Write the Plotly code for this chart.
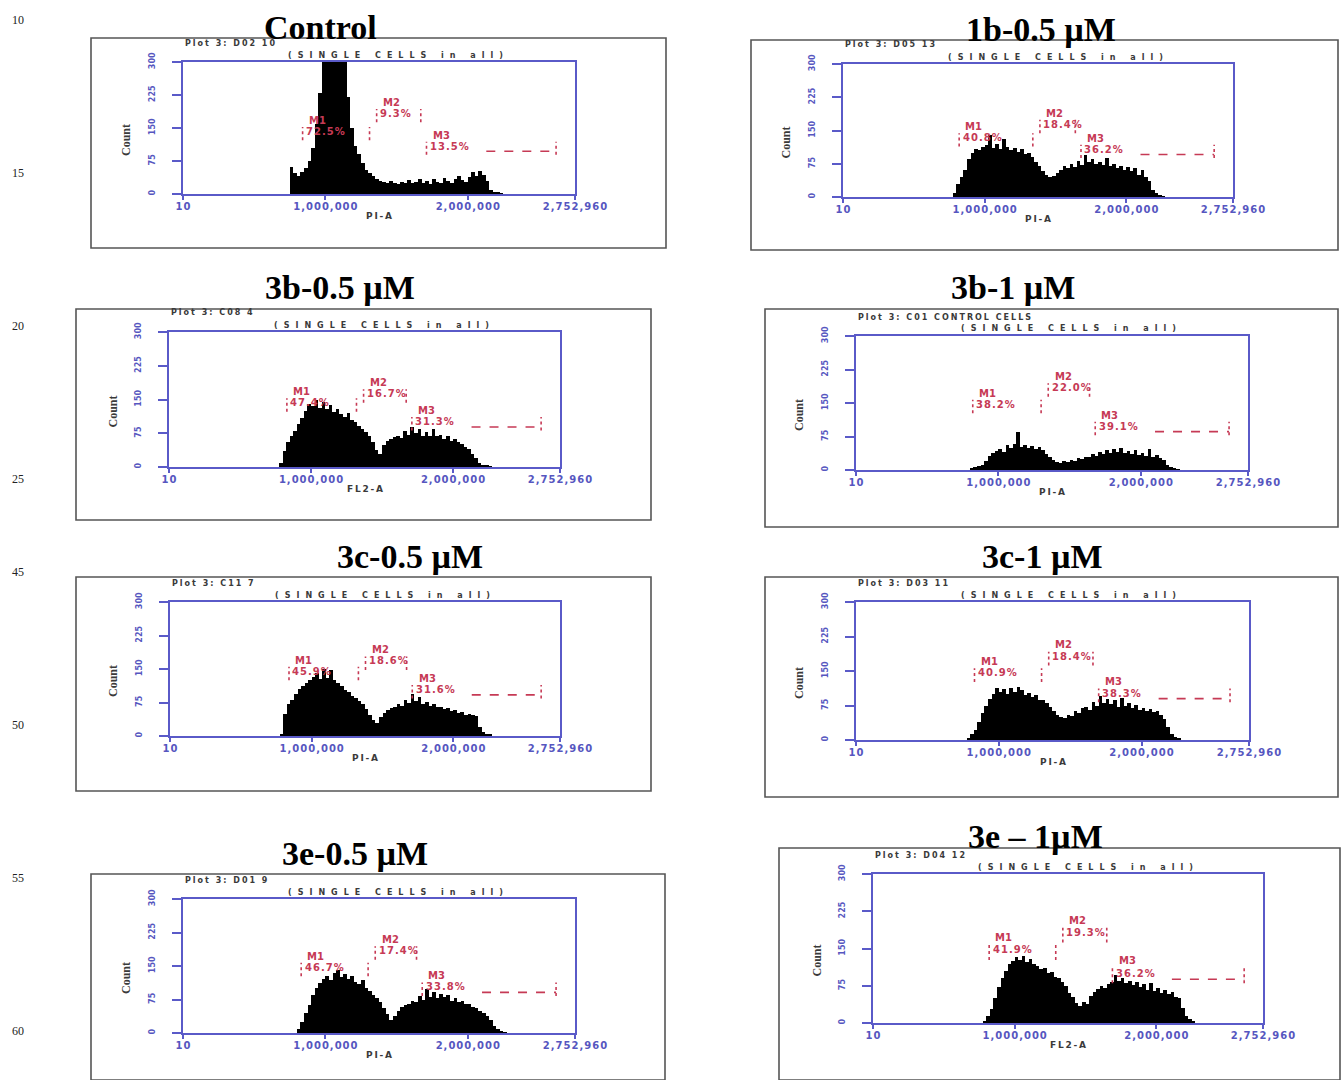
import plotly.graph_objects as go

W, H = 1341, 1080

# ---------------- data ----------------
titles = ["Control", "1b-0.5 µM", "3b-0.5 µM", "3b-1 µM",
          "3c-0.5 µM", "3c-1 µM", "3e-0.5 µM", "3e – 1µM"]
sample_ids = ["Plot 3: D02 10", "Plot 3: D05 13", "Plot 3: C08 4",
              "Plot 3: C01 CONTROL CELLS", "Plot 3: C11 7", "Plot 3: D03 11",
              "Plot 3: D01 9", "Plot 3: D04 12"]
gate_label = "(SINGLE CELLS in all)"
x_axis_titles = ["PI-A", "PI-A", "FL2-A", "PI-A", "PI-A", "PI-A", "PI-A", "FL2-A"]
y_axis_title = "Count"

m1_pct = ["72.5%", "40.8%", "47.4%", "38.2%", "45.9%", "40.9%", "46.7%", "41.9%"]
m2_pct = ["9.3%", "18.4%", "16.7%", "22.0%", "18.6%", "18.4%", "17.4%", "19.3%"]
m3_pct = ["13.5%", "36.2%", "31.3%", "39.1%", "31.6%", "38.3%", "33.8%", "36.2%"]

x_tick_values = [10, 1000000, 2000000, 2752960]
x_tick_labels = ["10", "1,000,000", "2,000,000", "2,752,960"]
y_tick_values = [0, 75, 150, 225, 300]
y_tick_labels = ["0", "75", "150", "225", "300"]

line_numbers = ["10", "15", "20", "25", "45", "50", "55", "60"]

# histogram bins (PI-A channel), 25,000 wide starting at 700,000
bin_width = 25000
bin_centers = [712500 + bin_width * i for i in range(64)]

counts_control = [0, 0, 62, 48, 42, 50, 58, 75, 105, 160, 230, 310, 420, 450, 430, 400,
                  360, 320, 220, 150, 110, 90, 70, 55, 48, 40, 35, 30,
                  28, 24, 30, 26, 22, 28, 25, 32, 24, 27, 34, 26, 30, 22, 33, 28,
                  26, 36, 30, 25, 34, 40, 32, 28, 38, 50, 42, 52,
                  44, 30, 8, 5, 3, 2, 0, 0]
counts_1b_05 = [0, 0, 0, 10, 30, 45, 60, 85, 100, 108, 105, 112, 118, 140, 110, 120,
                108, 130, 112, 105, 110, 102, 108, 98, 100, 90, 80, 70, 58, 50, 45, 48,
                55, 62, 70, 66, 75, 68, 82, 72, 95, 78, 85, 74, 80, 72, 88, 70,
                75, 65, 70, 62, 68, 58, 65, 50, 60, 45, 35, 15, 8, 4, 2, 0]
counts_3b_05 = [0, 0, 0, 8, 35, 55, 70, 80, 95, 110, 125, 140, 135, 150, 132, 145,
                128, 138, 122, 130, 118, 112, 120, 105, 100, 92, 85, 78, 70, 55, 38, 30,
                48, 58, 62, 66, 70, 64, 80, 72, 90, 76, 84, 70, 78, 68, 85, 70,
                72, 62, 68, 58, 62, 55, 52, 45, 40, 30, 20, 10, 5, 3, 2, 0]
counts_3b_1 = [0, 0, 0, 0, 4, 6, 8, 12, 20, 32, 38, 42, 48, 40, 55, 50,
               58, 84, 52, 56, 50, 54, 46, 52, 44, 36, 28, 22, 18, 16, 20, 18,
               22, 20, 26, 24, 30, 28, 36, 32, 40, 35, 44, 38, 46, 40, 50, 38,
               42, 36, 44, 34, 38, 32, 46, 30, 34, 26, 22, 12, 6, 3, 1, 0]
counts_3c_05 = [0, 0, 0, 5, 50, 72, 80, 95, 105, 112, 118, 125, 132, 140, 128, 150,
                130, 148, 125, 118, 112, 104, 98, 90, 85, 78, 72, 60, 48, 35, 30, 42,
                52, 58, 62, 66, 72, 68, 80, 74, 95, 78, 88, 72, 76, 68, 72, 64,
                66, 60, 62, 56, 58, 52, 54, 48, 50, 46, 44, 20, 8, 5, 4, 0]
counts_3c_1 = [0, 0, 0, 4, 12, 22, 40, 58, 75, 90, 100, 112, 105, 110, 100, 112,
               104, 115, 108, 98, 102, 94, 98, 88, 86, 80, 72, 62, 55, 50, 48, 55,
               52, 62, 58, 70, 72, 66, 82, 75, 96, 80, 90, 78, 86, 72, 92, 74,
               80, 70, 76, 66, 70, 62, 68, 60, 62, 55, 45, 28, 12, 6, 4, 0]
counts_3e_05 = [0, 0, 0, 0, 8, 25, 45, 62, 85, 100, 112, 120, 128, 118, 135, 140,
                125, 132, 120, 128, 115, 110, 118, 100, 95, 85, 78, 70, 55, 42, 30, 38,
                50, 58, 62, 66, 72, 70, 82, 75, 98, 80, 92, 78, 88, 80, 84, 72,
                78, 70, 72, 64, 66, 58, 56, 50, 45, 38, 28, 15, 8, 4, 2, 0]
counts_3e_1 = [0, 0, 0, 5, 15, 28, 50, 72, 90, 105, 118, 125, 132, 126, 135, 122,
               128, 118, 115, 108, 110, 100, 102, 92, 90, 82, 75, 60, 52, 40, 35, 42,
               38, 55, 62, 68, 75, 70, 78, 82, 96, 85, 90, 80, 84, 76, 82, 72,
               78, 66, 80, 64, 70, 60, 66, 58, 62, 52, 50, 30, 14, 8, 4, 0]

all_counts = [counts_control, counts_1b_05, counts_3b_05, counts_3b_1,
              counts_3c_05, counts_3c_1, counts_3e_05, counts_3e_1]

# ---------------- layout (pixel geometry) ----------------
plot_boxes = [(183, 62, 575, 194), (843, 64, 1233, 197), (169, 332, 560, 467),
              (856, 336, 1248, 470), (170, 602, 560, 736), (856, 602, 1249, 740),
              (183, 899, 575, 1033), (873, 874, 1263, 1023)]
frame_boxes = [(91, 38, 666, 248), (751, 40, 1338, 250), (76, 309, 651, 520),
               (765, 309, 1338, 527), (76, 577, 651, 791), (765, 577, 1338, 797),
               (91, 874, 665, 1095), (779, 848, 1350, 1095)]
title_pos = [(320, 28), (1041, 29), (340, 288), (1013, 288),
             (410, 556), (1042, 556), (355, 853), (1035, 836)]
line_number_y = [20, 173, 326, 479, 572, 725, 878, 1031]

# marker gate geometry (start x in PI units, line level in counts)
gate_start = [(0.84e6, 1.36e6, 1.71e6), (0.82e6, 1.39e6, 1.68e6), (0.83e6, 1.37e6, 1.71e6),
              (0.82e6, 1.35e6, 1.68e6), (0.84e6, 1.38e6, 1.71e6), (0.83e6, 1.35e6, 1.70e6),
              (0.83e6, 1.35e6, 1.68e6), (0.82e6, 1.34e6, 1.69e6)]
gate_level = [(130, 171, 97), (122, 152, 96), (131, 151, 89), (135, 172, 86),
              (133, 156, 92), (134, 170, 90), (135, 172, 91), (135, 170, 88)]
gate_end_x = 2.62e6

BLUE = "#5a5ac8"
BLUE_TXT = "#5656c0"
RED = "#c63a55"
GRAY_TXT = "#3a3a3a"


def spaced(s, sep):
    return sep.join(list(s))


fig = go.Figure()
annotations = []
shapes = []

for k in range(8):
    ax = "" if k == 0 else str(k + 1)
    L, T, R, B = plot_boxes[k]
    fig.add_trace(go.Bar(
        x=bin_centers, y=all_counts[k], width=bin_width,
        marker=dict(color="black", line=dict(width=0)),
        xaxis="x" + ax, yaxis="y" + ax, showlegend=False, hoverinfo="skip"))

    fig.layout["xaxis" + ax] = dict(
        domain=[L / W, R / W], anchor="y" + ax, range=[10, 2752960],
        tickvals=x_tick_values, ticktext=[spaced(t, "\u200a") for t in x_tick_labels],
        tickangle=0, automargin=False,
        showline=True, mirror=True, linecolor=BLUE, linewidth=2,
        ticks="outside", ticklen=4, tickwidth=2, tickcolor=BLUE,
        ticklabelstandoff=-2,
        showgrid=False, zeroline=False, fixedrange=True,
        tickfont=dict(family="DejaVu Sans", size=10, color=BLUE_TXT, weight="bold"))
    fig.layout["yaxis" + ax] = dict(
        domain=[1 - B / H, 1 - T / H], anchor="x" + ax, range=[0, 300],
        tickvals=y_tick_values, ticktext=y_tick_labels, tickangle=-90, automargin=False,
        showline=True, mirror=True, linecolor=BLUE, linewidth=2,
        ticks="outside", ticklen=9, tickwidth=2, tickcolor=BLUE,
        ticklabelstandoff=14,
        showgrid=False, zeroline=False, fixedrange=True,
        tickfont=dict(family="DejaVu Sans", size=8, color=BLUE_TXT, weight="bold"))

    # panel frame
    fL, fT, fR, fB = frame_boxes[k]
    shapes.append(dict(type="rect", xref="paper", yref="paper",
                       x0=fL / W, x1=min(fR, W - 1) / W, y0=max(1 - fB / H, 0.0), y1=1 - fT / H,
                       line=dict(color="#555555", width=1.6), layer="below"))

    # panel title
    tx, ty = title_pos[k]
    annotations.append(dict(xref="paper", yref="paper", x=tx / W, y=1 - ty / H,
                            text=titles[k], showarrow=False, xanchor="center", yanchor="middle",
                            font=dict(family="Liberation Serif", size=34, color="black", weight="bold")))

    # instrument header text
    annotations.append(dict(xref="paper", yref="paper", x=L / W, y=1 - (T - 19) / H,
                            text=spaced(sample_ids[k], "\u2005"), showarrow=False,
                            xanchor="left", yanchor="middle",
                            font=dict(family="DejaVu Sans", size=8, color=GRAY_TXT, weight="bold")))
    annotations.append(dict(xref="paper", yref="paper", x=(L + 103) / W, y=1 - (T - 7) / H,
                            text=spaced(gate_label, "\u2002\u2005"), showarrow=False,
                            xanchor="left", yanchor="middle",
                            font=dict(family="DejaVu Sans", size=8, color=GRAY_TXT, weight="bold")))

    # axis titles
    annotations.append(dict(xref="paper", yref="paper", x=(L + R) / 2 / W, y=1 - (B + 22) / H,
                            text=spaced(x_axis_titles[k], "\u2009"), showarrow=False,
                            xanchor="center", yanchor="middle",
                            font=dict(family="DejaVu Sans", size=9, color=GRAY_TXT, weight="bold")))
    annotations.append(dict(xref="paper", yref="paper", x=(L - 57) / W, y=1 - ((T + B) / 2 + 12) / H,
                            text=y_axis_title, showarrow=False, textangle=-90,
                            xanchor="center", yanchor="middle",
                            font=dict(family="Liberation Serif", size=12, color=GRAY_TXT, weight="bold")))

    # M1/M2/M3 gates
    pcts = [m1_pct[k], m2_pct[k], m3_pct[k]]
    starts = list(gate_start[k])
    ends = [starts[1] - 0.05e6, starts[2] - 0.04e6, gate_end_x]
    for m in range(3):
        xs, xe, yl = starts[m], ends[m], gate_level[k][m]
        annotations.append(dict(xref="x" + ax, yref="y" + ax, x=xs + 0.03e6, y=yl + 37,
                                text=f"M{m + 1}", showarrow=False, xanchor="left", yanchor="middle",
                                font=dict(family="DejaVu Sans", size=10, color=RED, weight="bold")))
        annotations.append(dict(xref="x" + ax, yref="y" + ax, x=xs + 0.01e6, y=yl + 12,
                                text=spaced(pcts[m], "\u200a"), showarrow=False, xanchor="left",
                                yanchor="middle",
                                font=dict(family="DejaVu Sans", size=10, color=RED, weight="bold")))
        for xv in (xs, xe):
            shapes.append(dict(type="line", xref="x" + ax, yref="y" + ax,
                               x0=xv, x1=xv, y0=yl - 8, y1=yl + 22,
                               line=dict(color=RED, width=1.6, dash="dot")))
        if m == 2:
            shapes.append(dict(type="line", xref="x" + ax, yref="y" + ax,
                               x0=xs + 0.42e6, x1=xe, y0=yl, y1=yl,
                               line=dict(color=RED, width=1.6, dash="dash")))

# manuscript line numbers
for num, ly in zip(line_numbers, line_number_y):
    annotations.append(dict(xref="paper", yref="paper", x=18 / W, y=1 - ly / H,
                            text=num, showarrow=False, xanchor="center", yanchor="middle",
                            font=dict(family="Liberation Serif", size=12, color="#222222")))

fig.update_layout(
    width=W, height=H, margin=dict(l=0, r=0, t=0, b=0, pad=0, autoexpand=False),
    paper_bgcolor="white", plot_bgcolor="white",
    bargap=0, showlegend=False,
    annotations=annotations, shapes=shapes,
)

fig.write_html("out.html",
               config={"responsive": False, "displayModeBar": False},
               post_script="document.body.style.margin='0';document.body.style.overflow='hidden';")
